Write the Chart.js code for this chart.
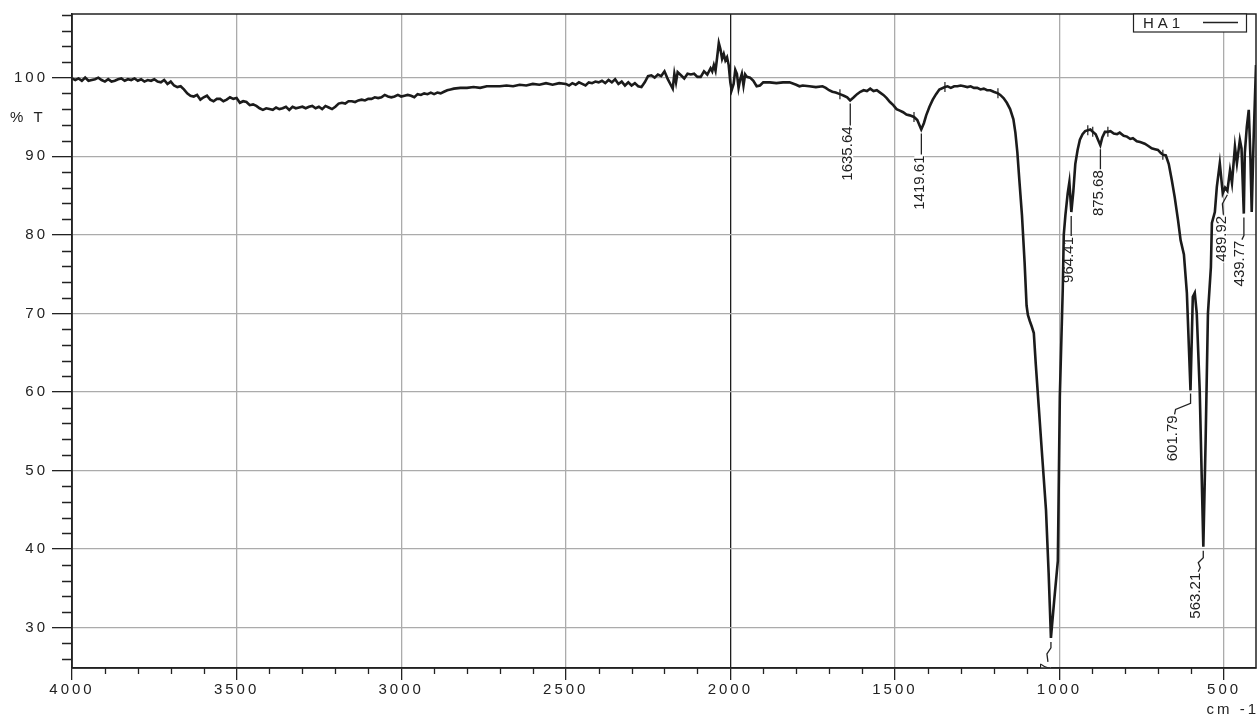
<!DOCTYPE html>
<html>
<head>
<meta charset="utf-8">
<title>HA1 IR spectrum</title>
<script src="https://cdn.jsdelivr.net/npm/chart.js@4.4.1/dist/chart.umd.min.js"></script>
<style>
html, body { margin: 0; padding: 0; background: #fff; }
#wrap { width: 1257px; height: 716px; position: relative; }
</style>
</head>
<body>
<div id="wrap"><canvas id="myChart"></canvas></div>
<script>
// spectrum: wavenumber (cm-1) and %T
var wavenumbers = [
  4000, 3990, 3980, 3970, 3960, 3950, 3940, 3930, 3920, 3910, 3900, 3890, 3880, 3870, 3860, 3850,
  3840, 3830, 3820, 3810, 3800, 3790, 3780, 3770, 3760, 3750, 3740, 3730, 3720, 3710, 3700, 3690,
  3680, 3670, 3660, 3650, 3640, 3630, 3620, 3610, 3600, 3590, 3580, 3570, 3560, 3550, 3540, 3530,
  3520, 3510, 3500, 3490, 3480, 3470, 3460, 3450, 3440, 3430, 3420, 3410, 3400, 3390, 3380, 3370,
  3360, 3350, 3340, 3330, 3320, 3310, 3300, 3290, 3280, 3270, 3260, 3250, 3240, 3230, 3220, 3210,
  3200, 3190, 3180, 3170, 3160, 3150, 3140, 3130, 3120, 3110, 3100, 3090, 3080, 3070, 3060, 3050,
  3040, 3030, 3020, 3010, 3000, 2990, 2980, 2970, 2960, 2950, 2940, 2930, 2920, 2910, 2900, 2890,
  2880, 2870, 2860, 2850, 2840, 2820, 2800, 2780, 2760, 2740, 2720, 2700, 2680, 2660, 2640, 2620,
  2600, 2580, 2560, 2540, 2520, 2500, 2490, 2480, 2470, 2460, 2450, 2440, 2430, 2420, 2410, 2400,
  2390, 2380, 2370, 2360, 2350, 2340, 2330, 2320, 2310, 2300, 2290, 2280, 2270, 2260, 2250, 2240,
  2230, 2220, 2210, 2200, 2195, 2190, 2180, 2175, 2170, 2165, 2160, 2150, 2140, 2130, 2120, 2110,
  2100, 2090, 2080, 2070, 2060, 2055, 2050, 2045, 2040, 2035, 2030, 2025, 2020, 2015, 2010, 2005,
  2000, 1996, 1990, 1985, 1980, 1975, 1970, 1965, 1960, 1955, 1950, 1940, 1930, 1920, 1910, 1900,
  1880, 1860, 1840, 1820, 1800, 1790, 1780, 1760, 1740, 1720, 1710, 1700, 1690, 1680, 1667, 1655,
  1645, 1636, 1625, 1615, 1605, 1595, 1585, 1575, 1565, 1555, 1545, 1535, 1525, 1515, 1505, 1495,
  1485, 1475, 1465, 1455, 1442, 1432, 1420, 1412, 1405, 1395, 1385, 1375, 1365, 1348, 1340, 1330,
  1320, 1310, 1300, 1290, 1280, 1270, 1260, 1250, 1240, 1230, 1220, 1210, 1200, 1187, 1180, 1170,
  1160, 1150, 1140, 1134, 1128, 1122, 1114, 1106, 1100, 1096, 1090, 1084, 1078, 1072, 1063, 1052,
  1041, 1033, 1026, 1016, 1005, 999, 990, 987, 982, 975, 970, 964, 958, 952, 945, 938,
  930, 922, 914, 906, 899, 890, 882, 876, 870, 862, 853, 845, 835, 825, 817, 805,
  795, 785, 777, 765, 755, 741, 730, 720, 710, 701, 692, 686, 677, 668, 659, 650,
  640, 632, 622, 613, 602, 595, 589, 583, 574, 563, 556, 549, 540, 537, 528, 522,
  513, 504, 497, 490, 482, 476, 467, 461, 452, 447, 440, 437, 431, 425, 420, 416,
  410, 403
];
var transmittance = [
  99.9, 99.7, 99.9, 99.6, 100.0, 99.6, 99.7, 99.8, 100.0, 99.7, 99.5, 99.8, 99.5, 99.6, 99.8, 99.9,
  99.6, 99.8, 99.7, 99.9, 99.6, 99.8, 99.5, 99.7, 99.6, 99.8, 99.5, 99.4, 99.7, 99.2, 99.5, 99.0,
  98.8, 98.9, 98.5, 98.0, 97.7, 97.6, 97.8, 97.2, 97.5, 97.7, 97.2, 97.0, 97.3, 97.3, 97.0, 97.2,
  97.5, 97.3, 97.4, 96.8, 97.0, 96.9, 96.5, 96.6, 96.4, 96.1, 95.9, 96.1, 96.0, 95.9, 96.2, 96.0,
  96.1, 96.3, 95.9, 96.3, 96.1, 96.2, 96.3, 96.1, 96.3, 96.4, 96.1, 96.3, 96.0, 96.4, 96.2, 96.0,
  96.3, 96.7, 96.8, 96.7, 97.0, 97.0, 96.9, 97.1, 97.2, 97.1, 97.3, 97.3, 97.5, 97.4, 97.5, 97.8,
  97.6, 97.5, 97.6, 97.8, 97.6, 97.7, 97.8, 97.7, 97.5, 97.9, 97.8, 98.0, 97.9, 98.1, 97.9, 98.1,
  98.0, 98.2, 98.4, 98.5, 98.6, 98.7, 98.7, 98.8, 98.7, 98.9, 98.9, 98.9, 99.0, 98.9, 99.1, 99.0,
  99.2, 99.1, 99.3, 99.1, 99.3, 99.2, 99.0, 99.3, 99.1, 99.4, 99.2, 99.0, 99.4, 99.3, 99.5, 99.4,
  99.6, 99.3, 99.7, 99.4, 99.8, 99.2, 99.5, 99.0, 99.4, 99.0, 99.3, 98.9, 98.8, 99.4, 100.2, 100.3,
  100.0, 100.4, 100.2, 100.8, 100.3, 99.8, 99.0, 98.6, 100.5, 99.4, 100.7, 100.3, 99.9, 100.5, 100.4, 100.5,
  100.1, 100.1, 100.8, 100.4, 101.2, 100.8, 101.6, 100.9, 102.6, 104.4, 103.6, 102.4, 103.0, 102.2, 102.6, 101.6,
  99.4, 98.4, 99.2, 101.0, 100.5, 98.7, 99.8, 100.5, 99.0, 100.4, 100.1, 100.0, 99.6, 98.9, 99.0, 99.4,
  99.4, 99.3, 99.4, 99.4, 99.1, 98.9, 99.0, 98.9, 98.8, 98.9, 98.7, 98.4, 98.2, 98.1, 97.9, 97.7,
  97.5, 97.1, 97.5, 97.9, 98.2, 98.4, 98.3, 98.6, 98.3, 98.4, 98.1, 97.8, 97.4, 96.9, 96.5, 96.0,
  95.8, 95.6, 95.3, 95.2, 95.0, 94.6, 93.4, 94.2, 95.2, 96.3, 97.2, 97.9, 98.5, 98.8, 98.9, 98.7,
  98.9, 98.9, 99.0, 98.9, 98.8, 98.9, 98.7, 98.7, 98.5, 98.6, 98.4, 98.4, 98.2, 98.0, 97.8, 97.4,
  96.8, 96.0, 94.7, 93.0, 90.5, 87.0, 82.5, 76.5, 71.0, 69.8, 69.0, 68.3, 67.5, 63.5, 58.1, 51.5,
  45.0, 37.0, 28.7, 33.5, 38.5, 59.4, 73.2, 80.0, 82.5, 85.3, 86.7, 82.9, 85.5, 89.0, 90.8, 92.1,
  92.8, 93.2, 93.3, 93.4, 93.1, 92.8, 92.0, 91.4, 92.4, 93.1, 93.1, 93.2, 92.9, 92.8, 93.0, 92.6,
  92.5, 92.2, 92.3, 91.9, 91.8, 91.6, 91.3, 91.0, 90.9, 90.8, 90.4, 90.2, 90.1, 89.0, 87.0, 84.8,
  81.9, 79.3, 77.5, 72.6, 60.2, 72.1, 72.6, 70.0, 60.2, 40.3, 53.9, 70.0, 75.9, 81.5, 82.9, 86.1,
  89.1, 85.3, 86.0, 85.6, 88.2, 86.6, 91.2, 89.1, 92.1, 91.0, 82.7, 90.4, 93.7, 95.9, 90.0, 82.9,
  92.5, 101.6
];

var xTickValues = [4000, 3500, 3000, 2500, 2000, 1500, 1000, 500];
var yTickValues = [30, 40, 50, 60, 70, 80, 90, 100];

// peak-pick labels
var peakLabels = ['1635.64', '1419.61', '964.41', '875.68', '601.79', '563.21', '489.92', '439.77', '1026.77'];
var peakWavenumbers = [1635.64, 1419.61, 964.41, 875.68, 601.79, 563.21, 489.92, 439.77, 1026];
var peakTransmittance = [97.1, 93.4, 82.9, 91.4, 60.2, 40.3, 85.6, 82.7, 28.7];

// little region marks sitting on the trace
var markerWavenumbers = [1667, 1442, 1348, 1187, 914, 899, 853, 686];
var markerTransmittance = [97.9, 95.0, 98.8, 98.0, 93.3, 93.1, 93.1, 90.2];

var seriesName = 'HA1';

// leader line shapes (pixel offsets from the peak), style only
var peakLeaders = [
  [[0, 3], [0, 25]],
  [[0, 4], [0, 25]],
  [[0, 4], [0, 24]],
  [[0, 4], [0, 24]],
  [[0, 3], [0, 13], [-15, 19], [-16, 24]],
  [[0, 4], [0, 11], [-5, 16], [-3, 21], [-5, 25]],
  [[0, 4], [-5, 13], [-4, 24]],
  [[0, 4], [0, 22], [-2, 26]],
  [[0, 4], [0, 10], [-4, 16], [-3, 24]]
];

var ink = '#222';
var font = '"Liberation Sans", Arial, sans-serif';

var decorations = {
  id: 'decorations',
  beforeDraw: function(chart) {
    chart.ctx.letterSpacing = '3px';
  },
  beforeDatasetsDraw: function(chart) {
    var ctx = chart.ctx, a = chart.chartArea;
    var xs = chart.scales.x, ys = chart.scales.y;
    ctx.save();
    ctx.beginPath();
    ctx.rect(a.left, a.top, a.right - a.left, a.bottom - a.top);
    ctx.clip();
    ctx.letterSpacing = '0px';
    ctx.font = '15px ' + font;
    for (var i = 0; i < peakLabels.length; i++) {
      var px = xs.getPixelForValue(peakWavenumbers[i]);
      var py = ys.getPixelForValue(peakTransmittance[i]);
      var path = peakLeaders[i];
      var end = path[path.length - 1];
      var tx = px + end[0] - 2, ty = py + end[1] + 1;
      var w = ctx.measureText(peakLabels[i]).width;
      ctx.fillStyle = '#fff';
      ctx.fillRect(tx - 5, ty, 10, w + 1);
      ctx.beginPath();
      for (var j = 0; j < path.length; j++) {
        if (j === 0) ctx.moveTo(px + path[j][0], py + path[j][1]);
        else ctx.lineTo(px + path[j][0], py + path[j][1]);
      }
      ctx.strokeStyle = ink;
      ctx.lineWidth = 1.3;
      ctx.stroke();
      ctx.save();
      ctx.translate(tx, ty);
      ctx.rotate(-Math.PI / 2);
      ctx.textAlign = 'right';
      ctx.textBaseline = 'middle';
      ctx.fillStyle = ink;
      ctx.fillText(peakLabels[i], 0, 0);
      ctx.restore();
    }
    ctx.restore();
  },
  afterDraw: function(chart) {
    var ctx = chart.ctx, a = chart.chartArea;
    var xs = chart.scales.x, ys = chart.scales.y;
    ctx.save();
    ctx.strokeStyle = ink;
    ctx.lineWidth = 1.5;
    ctx.strokeRect(a.left, a.top, a.right - a.left, a.bottom - a.top);

    // minor ticks
    ctx.lineWidth = 1.3;
    ctx.beginPath();
    for (var v = 3900; v >= 500; v -= 100) {
      if (v % 500 === 0) continue;
      var x = Math.round(xs.getPixelForValue(v)) + 0.5;
      ctx.moveTo(x, a.bottom);
      ctx.lineTo(x, a.bottom + 6);
    }
    for (var t = 26; t <= 108; t += 2) {
      if (t % 10 === 0) continue;
      var y = Math.round(ys.getPixelForValue(t)) + 0.5;
      ctx.moveTo(a.left - 10, y);
      ctx.lineTo(a.left, y);
    }
    ctx.stroke();

    // axis captions
    ctx.fillStyle = ink;
    ctx.font = '15px ' + font;
    ctx.letterSpacing = '3px';
    ctx.textAlign = 'left';
    ctx.textBaseline = 'middle';
    ctx.fillText('% T', 10, 118);
    ctx.textAlign = 'right';
    ctx.textBaseline = 'alphabetic';
    ctx.fillText('cm -1', a.right + 3, 714);

    // legend box
    var bx = 1133, by = a.top, bw = 113, bh = 18;
    ctx.fillStyle = '#fff';
    ctx.fillRect(bx, by, bw, bh);
    ctx.lineWidth = 1.2;
    ctx.strokeRect(bx + 0.5, by, bw, bh);
    ctx.fillStyle = ink;
    ctx.letterSpacing = '4px';
    ctx.textAlign = 'left';
    ctx.textBaseline = 'middle';
    ctx.fillText(seriesName, bx + 10, by + 9.5);
    ctx.lineWidth = 1.5;
    ctx.beginPath();
    ctx.moveTo(bx + 70, by + 8.5);
    ctx.lineTo(bx + 105, by + 8.5);
    ctx.stroke();
    ctx.restore();
  }
};

var ctx = document.getElementById('myChart');
var chart = new Chart(ctx, {
  type: 'line',
  data: {
    datasets: [
      {
        label: seriesName,
        data: wavenumbers.map(function(w, i) { return { x: w, y: transmittance[i] }; }),
        borderColor: '#1b1b1b',
        borderWidth: 2.6,
        pointRadius: 0,
        tension: 0,
        fill: false
      },
      {
        label: 'marks',
        data: markerWavenumbers.map(function(w, i) { return { x: w, y: markerTransmittance[i] }; }),
        showLine: false,
        pointStyle: 'line',
        rotation: 90,
        pointRadius: 5,
        pointBorderWidth: 1.2,
        pointBorderColor: ink,
        borderColor: ink
      }
    ]
  },
  options: {
    responsive: true,
    maintainAspectRatio: false,
    animation: false,
    events: [],
    layout: { autoPadding: false, padding: { top: 14, right: 1, left: 0, bottom: 0 } },
    plugins: {
      legend: { display: false },
      tooltip: { enabled: false }
    },
    scales: {
      x: {
        type: 'linear',
        reverse: true,
        min: 403,
        max: 4000,
        afterBuildTicks: function(scale) {
          scale.ticks = xTickValues.map(function(v) { return { value: v }; });
        },
        afterFit: function(scale) {
          scale.height = 48;
          scale.paddingLeft = 0;
          scale.paddingRight = 0;
        },
        grid: {
          color: function(c) { return c.tick && c.tick.value === 2000 ? '#1e1e1e' : '#ababab'; },
          lineWidth: 1.3,
          tickLength: 12,
          tickColor: ink,
          tickWidth: 1.3
        },
        border: { display: true, color: ink, width: 1.5 },
        ticks: {
          color: ink,
          font: { family: font, size: 15 },
          padding: 1,
          maxRotation: 0,
          autoSkip: false,
          callback: function(v) { return String(v); }
        }
      },
      y: {
        min: 24.87,
        max: 108.1,
        afterBuildTicks: function(scale) {
          scale.ticks = yTickValues.map(function(v) { return { value: v }; });
        },
        afterFit: function(scale) {
          scale.width = 72;
          scale.paddingTop = 0;
          scale.paddingBottom = 0;
        },
        grid: {
          color: '#ababab',
          lineWidth: 1.3,
          tickLength: 20,
          tickColor: ink,
          tickWidth: 1.3
        },
        border: { display: true, color: ink, width: 1.5 },
        ticks: {
          color: ink,
          font: { family: font, size: 15 },
          padding: 4,
          autoSkip: false,
          callback: function(v) { return String(v); }
        }
      }
    }
  },
  plugins: [decorations]
});
</script>
</body>
</html>
